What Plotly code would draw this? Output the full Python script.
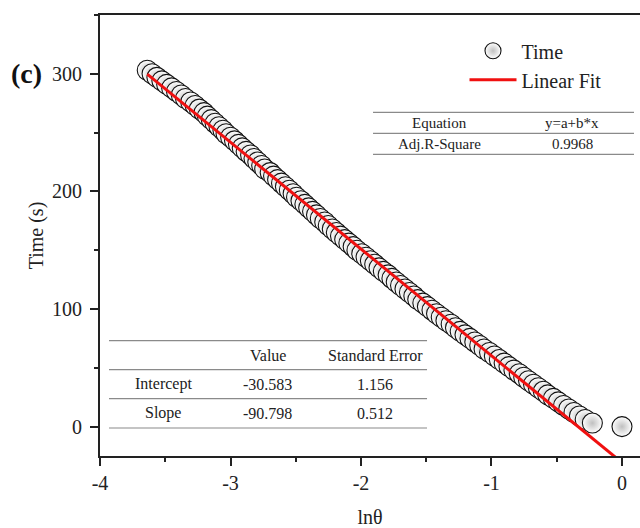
import plotly.graph_objects as go

# ---- data ----
time_s = [303, 300, 297, 294, 291, 288, 285, 282, 279, 276, 273, 270, 267, 264, 261, 258,
          255, 252, 249, 246, 243, 240, 237, 234, 231, 228, 225, 222, 219, 216, 213, 210,
          207, 204, 201, 198, 195, 192, 189, 186, 183, 180, 177, 174, 171, 168, 165, 162,
          159, 156, 153, 150, 147, 144, 141, 138, 135, 132, 129, 126, 123, 120, 117, 114,
          111, 108, 105, 102, 99, 96, 93, 90, 87, 84, 81, 78, 75, 72, 69, 66,
          63, 60, 57, 54, 51, 48, 45, 42, 39, 36, 33, 30, 27, 24, 21, 18,
          15, 12, 9, 6, 3, 0]
ln_theta = [-3.638, -3.601, -3.564, -3.526, -3.489, -3.451, -3.414, -3.377, -3.345, -3.305,
            -3.271, -3.239, -3.203, -3.177, -3.147, -3.118, -3.088, -3.058, -3.034, -2.999,
            -2.969, -2.939, -2.910, -2.880, -2.846, -2.820, -2.791, -2.761, -2.738, -2.696,
            -2.670, -2.639, -2.609, -2.579, -2.549, -2.520, -2.494, -2.460, -2.430, -2.401,
            -2.371, -2.341, -2.312, -2.278, -2.251, -2.220, -2.189, -2.157, -2.125, -2.093,
            -2.060, -2.031, -1.994, -1.961, -1.928, -1.895, -1.862, -1.829, -1.792, -1.763,
            -1.730, -1.697, -1.663, -1.629, -1.595, -1.565, -1.526, -1.491, -1.456, -1.421,
            -1.385, -1.349, -1.309, -1.276, -1.240, -1.203, -1.165, -1.128, -1.090, -1.057,
            -1.015, -0.978, -0.940, -0.903, -0.866, -0.828, -0.787, -0.753, -0.716, -0.678,
            -0.641, -0.603, -0.569, -0.526, -0.488, -0.448, -0.408, -0.368, -0.326, -0.282,
            -0.227, 0.000]

fit_intercept = -30.583
fit_slope = -90.798

x_tickvals = [-4, -3, -2, -1, 0]
x_ticktext = ["-4", "-3", "-2", "-1", "0"]
y_tickvals = [0, 100, 200, 300]
y_ticktext = ["0", "100", "200", "300"]

stats_labels = ["Equation", "Adj.R-Square"]
stats_values = ["y=a+b*x", "0.9968"]
param_header = ["", "Value", "Standard Error"]
param_names = ["Intercept", "Slope"]
param_values = ["-30.583", "-90.798"]
param_errors = ["1.156", "0.512"]

FONT = "Liberation Serif"
INK = "#222222"
GRAYLINE = "#8a8a8a"

x_fit = [min(ln_theta), max(ln_theta)]
y_fit = [fit_intercept + fit_slope * v for v in x_fit]

fig = go.Figure()
fig.add_trace(go.Scatter(
    x=ln_theta, y=time_s, mode="markers", name="Time",
    marker=dict(symbol="circle", size=20, color="white",
                line=dict(color="#111111", width=1.1),
                gradient=dict(type="radial", color="#c0c0c0")),
))
fig.add_trace(go.Scatter(
    x=x_fit, y=y_fit, mode="lines", name="Linear Fit",
    line=dict(color="#f01010", width=3),
))

axis_common = dict(
    showgrid=False, zeroline=False, showline=True, linewidth=2, linecolor=INK,
    ticks="outside", ticklen=8, tickwidth=2, tickcolor=INK, automargin=False,
    tickfont=dict(family=FONT, size=20, color=INK),
)

fig.update_xaxes(
    range=[-4, 0.138], tickmode="array", tickvals=x_tickvals, ticktext=x_ticktext,
    mirror=True,
    title=dict(text="lnθ", font=dict(family=FONT, size=20, color=INK), standoff=17),
    minor=dict(ticks="outside", ticklen=4, tickwidth=2, tickcolor=INK, dtick=0.5, tick0=-4, showgrid=False),
    **axis_common,
)
fig.update_yaxes(
    range=[-25, 350], tickmode="array", tickvals=y_tickvals, ticktext=y_ticktext,
    mirror=False, ticklabelstandoff=4,
    title=dict(text="Time (s)", font=dict(family=FONT, size=20, color=INK), standoff=3),
    minor=dict(ticks="outside", ticklen=4, tickwidth=2, tickcolor=INK, dtick=50, tick0=0, showgrid=False),
    **axis_common,
)

shapes = []
annotations = []

# top-right statistics table
t1_x0, t1_x1 = 0.5056, 0.9889
for yy in [0.7794, 0.7317, 0.6841]:
    shapes.append(dict(type="line", xref="paper", yref="paper", x0=t1_x0, x1=t1_x1, y0=yy, y1=yy,
                       line=dict(color=GRAYLINE, width=1.2)))
t1_rows_y = [0.7556, 0.7079]
t1_cols_x = [0.6296, 0.8741]
for i in range(len(stats_labels)):
    for j, txt in enumerate([stats_labels[i], stats_values[i]]):
        annotations.append(dict(xref="paper", yref="paper", x=t1_cols_x[j], y=t1_rows_y[i], text=txt,
                                showarrow=False, xanchor="center", yanchor="middle",
                                font=dict(family=FONT, size=15, color=INK)))

# bottom-left parameters table
t2_x0, t2_x1 = 0.0167, 0.6056
for yy in [0.2617, 0.1959, 0.1302, 0.0635]:
    shapes.append(dict(type="line", xref="paper", yref="paper", x0=t2_x0, x1=t2_x1, y0=yy, y1=yy,
                       line=dict(color=GRAYLINE, width=1.2)))
t2_rows_y = [0.2290, 0.1630, 0.0968]
t2_cols_x = [0.1167, 0.3111, 0.5093]
rows = [param_header] + [[param_names[i], param_values[i], param_errors[i]] for i in range(len(param_names))]
for i, row in enumerate(rows):
    for j, txt in enumerate(row):
        if txt:
            annotations.append(dict(xref="paper", yref="paper", x=t2_cols_x[j], y=t2_rows_y[i], text=txt,
                                    showarrow=False, xanchor="center", yanchor="middle",
                                    font=dict(family=FONT, size=16, color=INK)))

# panel label
annotations.append(dict(xref="paper", yref="paper", x=-0.137, y=0.868, text="<b>(c)</b>",
                        showarrow=False, xanchor="center", yanchor="middle",
                        font=dict(family=FONT, size=28, color="#111111")))

fig.update_layout(
    width=640, height=528,
    margin=dict(l=100, r=0, t=15, b=72, pad=0),
    paper_bgcolor="white", plot_bgcolor="white",
    font=dict(family=FONT, color=INK),
    showlegend=True,
    legend=dict(x=0.675, y=0.963, xanchor="left", yanchor="top", bgcolor="rgba(0,0,0,0)",
                font=dict(family=FONT, size=20, color=INK), tracegroupgap=0, itemwidth=47),
    shapes=shapes, annotations=annotations,
)

fig.write_html("out.html", config={"displayModeBar": False},
               post_script="document.body.style.margin='0';")
